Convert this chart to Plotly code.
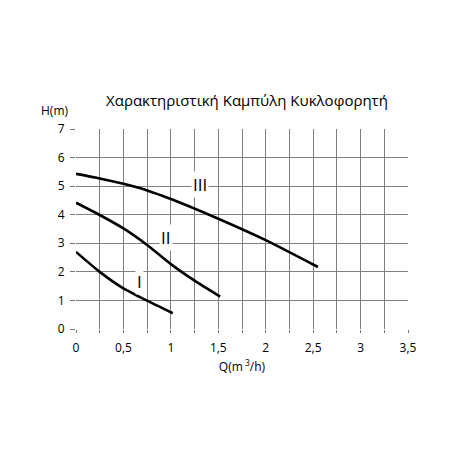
import plotly.graph_objects as go

# Courbes caractéristiques du circulateur (vitesses I, II, III)
q_I = [0, 0.25, 0.5, 0.75, 1.02]
h_I = [2.7, 2.0, 1.42, 0.99, 0.55]

q_II = [0, 0.25, 0.5, 0.75, 1.0, 1.25, 1.52]
h_II = [4.42, 3.99, 3.52, 2.94, 2.27, 1.69, 1.13]

q_III = [0, 0.25, 0.5, 0.75, 1.0, 1.5, 2.0, 2.55]
h_III = [5.43, 5.27, 5.08, 4.85, 4.55, 3.86, 3.11, 2.17]

# Etiquettes des courbes
noms = ["I", "II", "III"]
pos_q = [0.67, 0.95, 1.31]
pos_h = [1.68, 3.22, 5.05]

# Graduations
x_ticks = [0, 0.5, 1, 1.5, 2, 2.5, 3, 3.5]
x_labels = ["0", "0,5", "1", "1,5", "2", "2,5", "3", "3,5"]
y_ticks = [0, 1, 2, 3, 4, 5, 6, 7]

fig = go.Figure()

for q, h in [(q_I, h_I), (q_II, h_II), (q_III, h_III)]:
    fig.add_trace(go.Scatter(
        x=q, y=h,
        mode="lines",
        line=dict(color="black", width=2.6, shape="spline", smoothing=0.6),
        showlegend=False,
        hoverinfo="skip",
    ))

for nom, q, h in zip(noms, pos_q, pos_h):
    fig.add_annotation(
        x=q, y=h, text=nom, showarrow=False,
        font=dict(size=17, color="black"),
        bgcolor="white", borderpad=1,
    )

fig.add_annotation(
    x=-0.065, xref="paper", y=1.09, yref="paper",
    text="H(m)", showarrow=False, font=dict(size=12),
    xanchor="center", yanchor="middle",
)

fig.update_layout(
    width=465, height=465,
    margin=dict(l=68, r=65, t=121, b=144),
    paper_bgcolor="white",
    plot_bgcolor="white",
    font=dict(family="Open Sans", color="black", size=12),
    title=dict(
        text="Χαρακτηριστική Καμπύλη Κυκλοφορητή",
        x=0.514, xanchor="center", y=0.80, yanchor="middle",
        font=dict(size=15),
    ),
    xaxis=dict(
        range=[0, 3.5],
        tickvals=x_ticks, ticktext=x_labels,
        ticks="outside", ticklen=3, tickcolor="#777",
        ticklabelstandoff=5,
        showgrid=True, gridcolor="#808080", gridwidth=1,
        minor=dict(dtick=0.25, tick0=0, ticks="outside", ticklen=3,
                   tickcolor="#777", showgrid=True, gridcolor="#808080", gridwidth=1),
        zeroline=False,
        showline=False,
        tickfont=dict(size=12),
        title=dict(text="Q(m<sup> 3</sup>/h)", font=dict(size=12), standoff=7),
    ),
    yaxis=dict(
        range=[0, 7],
        tickvals=y_ticks,
        ticks="outside", ticklen=5, tickcolor="#777",
        ticklabelstandoff=3,
        showgrid=True, gridcolor="#808080", gridwidth=1,
        zeroline=False,
        showline=False,
        tickfont=dict(size=12),
    ),
)

fig.write_html("out.html")
